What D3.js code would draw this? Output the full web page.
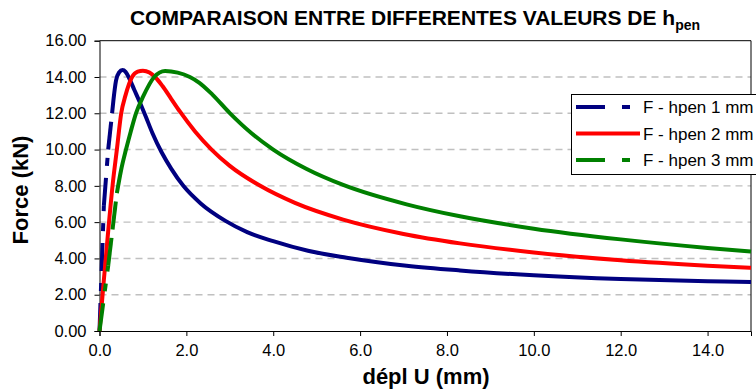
<!DOCTYPE html>
<html>
<head>
<meta charset="utf-8">
<script src="https://cdn.jsdelivr.net/npm/d3@7"></script>
<style>
  html, body { margin: 0; padding: 0; background: #fff; }
  svg { display: block; font-family: "Liberation Sans", Arial, sans-serif; }
</style>
</head>
<body>
<svg id="chart" width="756" height="389"></svg>
<script>
// ---- data ----
const titleMain = "COMPARAISON ENTRE DIFFERENTES VALEURS DE h";
const titleSub = "pen";
const xLabel = "dépl U (mm)";
const yLabel = "Force (kN)";
const xTicks = [0, 2, 4, 6, 8, 10, 12, 14];
const yTicks = [0, 2, 4, 6, 8, 10, 12, 14, 16];
const seriesNames = ["F - hpen 1 mm", "F - hpen 2 mm", "F - hpen 3 mm"];
const seriesColors = ["#000080", "#ff0000", "#008000"];
const seriesDashed = [true, false, true];

const blueX = [0, 0.1, 0.2, 0.29, 0.32, 0.38, 0.45, 0.53, 0.6, 0.69, 0.8, 0.92, 1.06, 1.22, 1.43, 1.65, 1.93, 2.33, 2.9, 3.4, 4.0, 4.8, 5.69, 7.07, 8.3, 10, 12, 14, 15];
const blueY = [0, 6.9, 10.0, 12.0, 12.7, 13.8, 14.25, 14.38, 14.28, 13.9, 13.3, 12.65, 11.85, 10.9, 9.85, 8.95, 8.0, 7.03, 6.07, 5.45, 4.95, 4.42, 4.04, 3.6, 3.34, 3.07, 2.86, 2.74, 2.70];

const redX = [0, 0.1, 0.2, 0.3, 0.4, 0.5, 0.6, 0.75, 0.88, 1.0, 1.15, 1.28, 1.45, 1.65, 1.85, 2.2, 2.58, 3.0, 3.7, 4.5, 5.61, 7.0, 8.3, 10, 12, 14, 15];
const redY = [0, 2.8, 5.5, 8.0, 10.0, 12.0, 13.0, 14.0, 14.3, 14.35, 14.25, 14.0, 13.5, 12.8, 12.1, 11.0, 10.0, 9.1, 8.0, 7.06, 6.14, 5.35, 4.83, 4.33, 3.9, 3.6, 3.48];

const greenX = [0, 0.2, 0.3, 0.4, 0.5, 0.61, 0.72, 0.84, 1.0, 1.26, 1.51, 1.8, 2.08, 2.3, 2.6, 3.0, 3.5, 4.0, 4.77, 5.61, 7.07, 8.3, 10, 12, 14, 15];
const greenY = [0, 3.6, 5.6, 7.6, 8.9, 10.0, 11.0, 12.0, 12.9, 14.0, 14.33, 14.24, 14.0, 13.68, 13.03, 12.01, 10.9, 10.0, 8.93, 8.05, 6.98, 6.32, 5.64, 5.05, 4.58, 4.38];

const seriesX = [blueX, redX, greenX];
const seriesY = [blueY, redY, greenY];

// ---- layout ----
const svg = d3.select("#chart");
const plot = { left: 99.5, right: 751, top: 40.7, bottom: 331 };
const x = d3.scaleLinear().domain([0, 15]).range([plot.left, plot.right]);
const y = d3.scaleLinear().domain([0, 16]).range([plot.bottom, plot.top]);
const dashPattern = "28,12,8,12";

// gridlines
svg.append("g").selectAll("line")
  .data(yTicks.filter(v => v > 0 && v < 16))
  .join("line")
  .attr("x1", plot.left).attr("x2", plot.right)
  .attr("y1", d => y(d)).attr("y2", d => y(d))
  .attr("stroke", "#c0c0c0").attr("stroke-width", 1.4)
  .attr("stroke-dasharray", "7,5");

// plot border top/right
svg.append("path")
  .attr("d", `M${plot.left},${plot.top}H${plot.right}V${plot.bottom}`)
  .attr("fill", "none").attr("stroke", "#000").attr("stroke-width", 1);

// axes
const xAxis = svg.append("g").attr("transform", `translate(0,${plot.bottom})`)
  .call(d3.axisBottom(x).tickValues(xTicks).tickFormat(d3.format(".1f")).tickSizeOuter(0).tickSize(5).tickPadding(8));
const yAxis = svg.append("g").attr("transform", `translate(${plot.left},0)`)
  .call(d3.axisLeft(y).tickValues(yTicks).tickFormat(d3.format(".2f")).tickSizeOuter(0).tickSize(5).tickPadding(8));
[xAxis, yAxis].forEach(a => {
  a.select(".domain").attr("stroke", "#000");
  a.selectAll(".tick line").attr("stroke", "#000");
  a.selectAll(".tick text").attr("fill", "#000")
    .style("font-family", "'Liberation Sans', Arial, sans-serif").style("font-size", "16.5px");
});
xAxis.selectAll(".tick text").attr("dy", "0.72em");

// curves
const lineGen = d3.line().x(d => x(d[0])).y(d => y(d[1])).curve(d3.curveMonotoneX);
const curves = svg.append("g");
seriesX.forEach((xs, si) => {
  const pts = xs.map((v, i) => [v, seriesY[si][i]]);
  const col = seriesColors[si];
  let k = 0;
  if (seriesDashed[si]) {
    // long point-to-point segments keep their dash pattern, as in the original
    while (k < pts.length - 1) {
      const dx = x(pts[k + 1][0]) - x(pts[k][0]);
      const dy = y(pts[k + 1][1]) - y(pts[k][1]);
      if (Math.hypot(dx, dy) < 25) break;
      curves.append("line")
        .attr("x1", x(pts[k][0])).attr("y1", y(pts[k][1]))
        .attr("x2", x(pts[k + 1][0])).attr("y2", y(pts[k + 1][1]))
        .attr("stroke", col).attr("stroke-width", 4)
        .attr("stroke-dasharray", dashPattern);
      k++;
    }
  }
  curves.append("path")
    .attr("d", lineGen(pts.slice(k)))
    .attr("fill", "none").attr("stroke", col).attr("stroke-width", 4)
    .attr("stroke-linejoin", "round");
});

// title
const title = svg.append("text").attr("x", 415).attr("y", 25)
  .attr("text-anchor", "middle").attr("font-weight", "bold").attr("font-size", 21).attr("fill", "#000");
title.append("tspan").text(titleMain);
title.append("tspan").attr("font-size", 14).attr("dy", 5).text(titleSub);

// axis labels
svg.append("text").attr("x", 426).attr("y", 384).attr("text-anchor", "middle")
  .attr("font-weight", "bold").attr("font-size", 22).attr("fill", "#000").text(xLabel);
svg.append("text").attr("transform", "translate(28,190) rotate(-90)").attr("text-anchor", "middle")
  .attr("font-weight", "bold").attr("font-size", 22).attr("fill", "#000").text(yLabel);

// legend
const leg = svg.append("g");
leg.append("rect").attr("x", 571.5).attr("y", 94.5).attr("width", 200).attr("height", 80)
  .attr("fill", "#fff").attr("stroke", "#000").attr("stroke-width", 1);
const legY = [107, 133.5, 160];
seriesNames.forEach((name, i) => {
  leg.append("line").attr("x1", 576).attr("x2", 640).attr("y1", legY[i]).attr("y2", legY[i])
    .attr("stroke", seriesColors[i]).attr("stroke-width", 4)
    .attr("stroke-dasharray", seriesDashed[i] ? "29,17,8,20" : null);
  leg.append("text").attr("x", 643).attr("y", legY[i] + 6).attr("font-size", 17).attr("fill", "#000").text(name);
});
</script>
</body>
</html>
